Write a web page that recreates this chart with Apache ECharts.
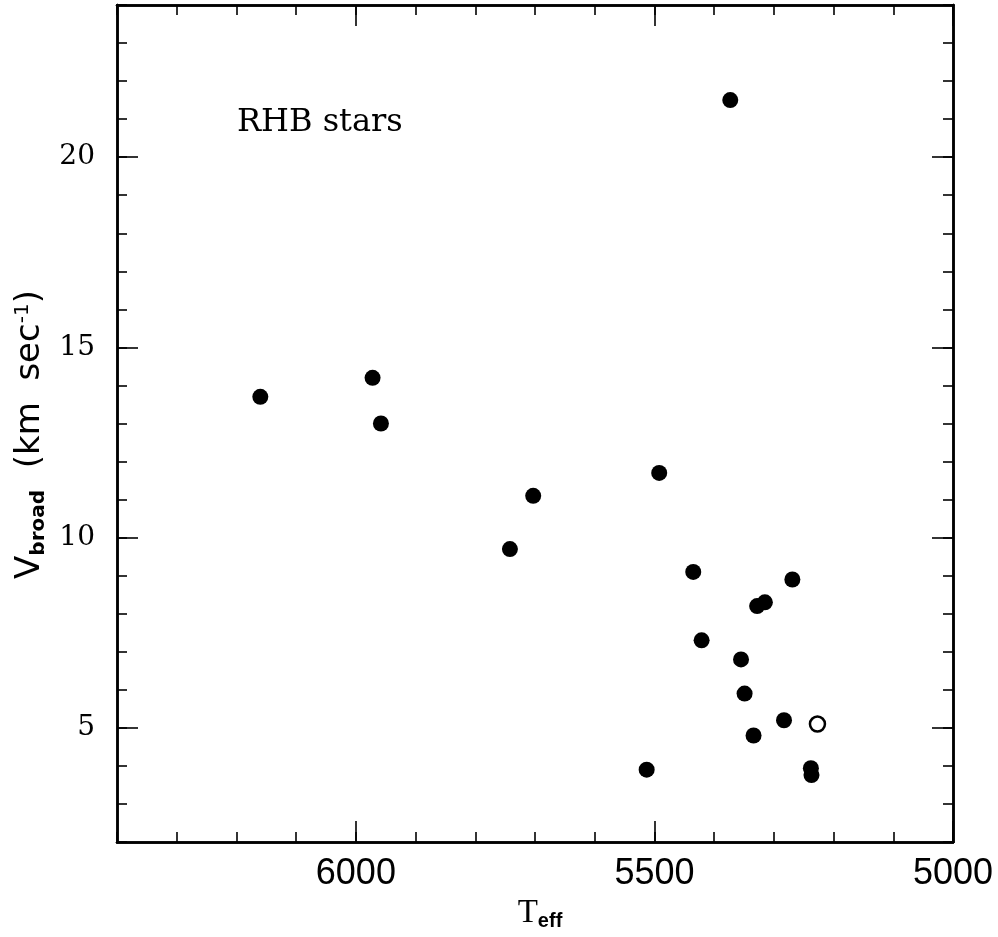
<!DOCTYPE html>
<html>
<head>
<meta charset="utf-8">
<title>RHB stars</title>
<script src="https://cdn.jsdelivr.net/npm/echarts@6/dist/echarts.min.js"></script>
<style>
html, body { margin: 0; padding: 0; background: #fff; }
#main { width: 998px; height: 937px; }
</style>
</head>
<body>
<div id="main"></div>
<script>
// 实心点: Teff 和 Vbroad
var teffFilled = [6160, 5972, 5958, 5703, 5742, 5492, 5373, 5435, 5421, 5355, 5349, 5328, 5315, 5269, 5334, 5283, 5513, 5238, 5237];
var vbroadFilled = [13.7, 14.2, 13.0, 11.1, 9.7, 11.7, 21.5, 9.1, 7.3, 6.8, 5.9, 8.2, 8.3, 8.9, 4.8, 5.2, 3.9, 3.94, 3.76];
// 空心点
var teffOpen = [5227];
var vbroadOpen = [5.1];
// 刻度
var xMajorTicks = [5000, 5500, 6000];
var yMajorTicks = [5, 10, 15, 20];

var myChart;

window.onload = function() {
	myChart = echarts.init(document.getElementById("main"));
	setChartOption();
}

function pairs(xs, ys) {
	var out = [];
	for (var i = 0; i < xs.length; i++) {
		out.push([xs[i], ys[i]]);
	}
	return out;
}

// 一个坐标轴: major=true 为长刻度
function xAxisOf(pos, major, withLabel) {
	return {
		type : 'value',
		position : pos,
		inverse : true,
		min : 5000,
		max : 6400,
		interval : 100,
		axisLine : { show : true, onZero : false, lineStyle : { color : '#000', width : 2.5 } },
		axisTick : {
			show : true,
			inside : true,
			length : major ? 21 : 10,
			customValues : major ? xMajorTicks : undefined,
			lineStyle : { color : '#000', width : 1.6 }
		},
		axisLabel : {
			show : withLabel,
			customValues : xMajorTicks,
			margin : 14,
			color : '#000',
			fontFamily : 'Liberation Sans, sans-serif',
			fontSize : 36,
			formatter : function(v) { return String(v); }
		},
		splitLine : { show : false },
		name : withLabel ? '{t|T}{s|eff}' : '',
		nameLocation : 'middle',
		nameGap : 50,
		nameTextStyle : {
			color : '#000',
			padding : [0, 0, 0, 10],
			rich : {
				t : { fontFamily : 'Liberation Serif, serif', fontSize : 33, color : '#000' },
				s : { fontFamily : 'Liberation Sans, sans-serif', fontSize : 20, fontWeight : 'bold', color : '#000', verticalAlign : 'bottom', padding : [16, 0, 0, 0] }
			}
		}
	};
}

function yAxisOf(pos, major, withLabel) {
	return {
		type : 'value',
		position : pos,
		min : 2,
		max : 24,
		interval : 1,
		axisLine : { show : true, onZero : false, lineStyle : { color : '#000', width : 2.5 } },
		axisTick : {
			show : true,
			inside : true,
			length : major ? 21 : 10,
			customValues : major ? yMajorTicks : undefined,
			lineStyle : { color : '#000', width : 1.6 }
		},
		axisLabel : {
			show : withLabel,
			customValues : yMajorTicks,
			margin : 22,
			color : '#000',
			fontFamily : 'DejaVu Serif, serif',
			fontSize : 28
		},
		splitLine : { show : false },
		name : withLabel ? '{v|V}{s|broad}{v|  (km  sec}{p|-1}{v|)}' : '',
		nameLocation : 'middle',
		nameGap : 66,
		nameTextStyle : {
			color : '#000',
			padding : [0, 22, 0, 0],
			rich : {
				v : { fontFamily : 'DejaVu Sans, sans-serif', fontSize : 34, color : '#000' },
				s : { fontFamily : 'DejaVu Sans, sans-serif', fontSize : 20, fontWeight : 'bold', color : '#000', verticalAlign : 'bottom', padding : [16, 0, 0, 0] },
				p : { fontFamily : 'DejaVu Sans, sans-serif', fontSize : 20, color : '#000', verticalAlign : 'top', padding : [0, 0, 14, 0] }
			}
		}
	};
}

function setChartOption() {
	myChart.setOption({
		animation : false,
		backgroundColor : '#fff',
		grid : { left : 117, right : 45, top : 5, bottom : 95 },
		xAxis : [
			xAxisOf('bottom', false, false),
			xAxisOf('bottom', true, true),
			xAxisOf('top', false, false),
			xAxisOf('top', true, false)
		],
		yAxis : [
			yAxisOf('left', false, false),
			yAxisOf('left', true, true),
			yAxisOf('right', false, false),
			yAxisOf('right', true, false)
		],
		graphic : [{
			type : 'text',
			left : 237,
			top : 107,
			style : {
				text : 'RHB stars',
				fontFamily : 'DejaVu Serif, serif',
				fontSize : 32,
				fill : '#000'
			}
		}],
		series : [{
			name : 'filled',
			type : 'scatter',
			xAxisIndex : 0,
			yAxisIndex : 0,
			symbol : 'circle',
			symbolSize : 16,
			itemStyle : { color : '#000', opacity : 1 },
			data : pairs(teffFilled, vbroadFilled)
		}, {
			name : 'open',
			type : 'scatter',
			xAxisIndex : 0,
			yAxisIndex : 0,
			symbol : 'circle',
			symbolSize : 15,
			itemStyle : { color : '#fff', borderColor : '#000', borderWidth : 2.5, opacity : 1 },
			data : pairs(teffOpen, vbroadOpen)
		}]
	});
}
</script>
</body>
</html>
